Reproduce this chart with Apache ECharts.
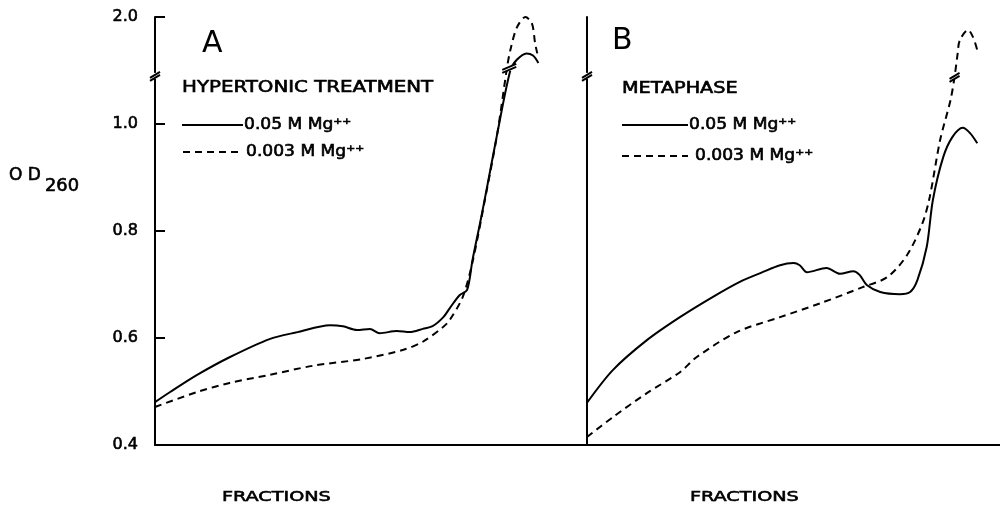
<!DOCTYPE html>
<html>
<head>
<meta charset="utf-8">
<script src="https://cdn.jsdelivr.net/npm/echarts@6/dist/echarts.min.js"></script>
<style>
html,body{margin:0;padding:0;background:#fff;}
#main{width:1000px;height:506px;}
</style>
</head>
<body>
<div id="main"></div>
<script>
// [fraction, OD260]; values above 1.0 are drawn above the axis break
var solidA = [[0,0.480],[1.4,0.499],[3.9,0.531],[6.9,0.564],[10.6,0.598],[13.2,0.611],[16.2,0.624],[17.4,0.622],[18.7,0.615],[19.9,0.617],[20.8,0.609],[22.4,0.613],[23.6,0.611],[24.8,0.617],[25.7,0.622],[26.7,0.639],[27.3,0.656],[28.2,0.680],[28.9,0.690],[29.4,0.746],[30.1,0.815],[30.7,0.877],[31.7,0.983],[32.9,1.50],[33.5,1.60],[34.4,1.66],[35.0,1.64],[35.5,1.57]];
var dashA = [[0,0.471],[3.9,0.499],[6.9,0.516],[10.6,0.531],[14.6,0.548],[19.3,0.561],[23.0,0.578],[24.8,0.593],[26.7,0.621],[27.3,0.634],[28.5,0.677],[29.4,0.742],[30.6,0.864],[31.7,0.983],[32.6,1.53],[32.9,1.69],[33.5,1.90],[34.3,2.00],[34.9,1.94],[35.2,1.75],[35.4,1.66]];
var solidB = [[0,0.479],[2.5,0.540],[5.8,0.596],[9.0,0.639],[12.2,0.677],[14.8,0.705],[17.0,0.723],[18.7,0.736],[20.0,0.740],[20.6,0.736],[21.3,0.723],[23.2,0.731],[24.5,0.720],[25.8,0.725],[26.4,0.718],[27.1,0.699],[28.4,0.686],[30.3,0.682],[31.3,0.686],[32.0,0.708],[32.9,0.770],[33.5,0.858],[34.5,0.938],[35.4,0.976],[36.4,0.993],[37.1,0.983],[37.8,0.964]];
var dashB = [[0,0.415],[2.5,0.452],[5.8,0.497],[9.0,0.536],[10.6,0.564],[14.5,0.611],[18.7,0.639],[22.6,0.665],[26.7,0.695],[29.1,0.714],[31.0,0.755],[32.5,0.815],[33.2,0.864],[34.2,0.970],[35.2,1.22],[35.6,1.44],[35.9,1.66],[36.1,1.78],[36.9,1.88],[37.4,1.81],[37.8,1.69]];
var yTicks = ['0.4','0.6','0.8','1.0','2.0'];
var legendNames = ['0.05 M Mg⁺⁺', '0.003 M Mg⁺⁺'];

var INK = '#000';
var FONT = 'DejaVu Sans';
var BREAK = 1.09; // axis position of the break

// compress the 1.0 - 2.0 range above the break
function brk(v) { return v > 1 ? 1 + (v - 1) * 0.2 : v; }
function prep(arr) { return arr.map(function (p) { return [p[0], brk(p[1])]; }); }

var myChart = echarts.init(document.getElementById('main'));

function yAx(grid, labels) {
    return {
        type: 'value', gridIndex: grid, min: 0.4, max: 1.2, interval: 0.2,
        axisLine: {show: true, lineStyle: {color: INK, width: 2}},
        axisTick: {show: labels, inside: true, length: 10, lineStyle: {color: INK, width: 2}},
        axisLabel: {
            show: labels, margin: 17, color: INK, fontSize: 16, fontFamily: FONT,
            textBorderColor: INK, textBorderWidth: 0.6,
            formatter: function (v) { return yTicks[Math.round((v - 0.4) / 0.2)]; }
        },
        splitLine: {show: false}
    };
}
function xAx(grid) {
    return {
        type: 'value', gridIndex: grid, min: 0, max: 40,
        axisLine: {show: true, lineStyle: {color: INK, width: 2}},
        axisTick: {show: false}, axisLabel: {show: false}, splitLine: {show: false}
    };
}
function line(name, data, grid, dashed) {
    return {
        name: name, type: 'line', xAxisIndex: grid, yAxisIndex: grid,
        data: prep(data), smooth: 0.3, symbol: 'none', animation: false,
        lineStyle: {color: INK, width: 2, type: dashed ? [7, 5] : 'solid'}
    };
}

var option = {
    backgroundColor: '#fff',
    animation: false,
    grid: [
        {left: 155, top: 17, width: 432, bottom: 61},
        {left: 587, top: 17, right: 0, bottom: 61}
    ],
    xAxis: [xAx(0), xAx(1)],
    yAxis: [yAx(0, true), yAx(1, false)],
    series: [
        line(legendNames[0], solidA, 0, false),
        line(legendNames[1], dashA, 0, true),
        line(legendNames[0], solidB, 1, false),
        line(legendNames[1], dashB, 1, true)
    ]
};
myChart.setOption(option);

// texts, legend keys and break marks
function txt(s, x, y, size, sx, bw) {
    return {type: 'text', x: x, y: y, scaleX: sx || 1, z: 10,
        style: {text: s, fill: INK, stroke: INK, lineWidth: bw === undefined ? 0.6 : bw,
            font: size + 'px "' + FONT + '"', textAlign: 'left', textVerticalAlign: 'middle'}};
}
function seg(x1, y1, x2, y2, dashed) {
    return {type: 'line', z: 12, shape: {x1: x1, y1: y1, x2: x2, y2: y2},
        style: {stroke: INK, lineWidth: 2, lineDash: dashed ? [7, 5] : null}};
}
function breakMark(p, w) {
    return [
        {type: 'rect', z: 11, shape: {x: p[0] - w / 2, y: p[1] - 3, width: w, height: 6}, style: {fill: '#fff'}},
        seg(p[0] - w / 2, p[1] + 2, p[0] + w / 2, p[1] - 4),
        seg(p[0] - w / 2, p[1] + 5, p[0] + w / 2, p[1] - 1)
    ];
}

var g = [];
g.push(txt('A', 202, 44, 30, 1, 0));
g.push(txt('B', 612, 41, 30, 1, 0));
g.push(txt('HYPERTONIC TREATMENT', 182, 88, 15, 1.32));
g.push(seg(182, 125, 243, 125, false));
g.push(txt(legendNames[0], 244, 125, 15, 1.14));
g.push(seg(183, 152, 240, 152, true));
g.push(txt(legendNames[1], 246, 152, 15, 1.14));
g.push(txt('METAPHASE', 622, 89, 15, 1.28));
g.push(seg(622, 125, 688, 125, false));
g.push(txt(legendNames[0], 689, 125, 15, 1.14));
g.push(seg(622, 156, 688, 156, true));
g.push(txt(legendNames[1], 695, 156, 15, 1.14));
g.push(txt('O D', 9, 176, 17, 1));
g.push(txt('260', 45, 187, 17, 1.05));
g.push(txt('FRACTIONS', 222, 497, 14, 1.37));
g.push(txt('FRACTIONS', 690, 497, 14, 1.37));

var pA = myChart.convertToPixel({gridIndex: 0}, [0, BREAK]);
var pB = myChart.convertToPixel({gridIndex: 1}, [0, BREAK]);
g = g.concat(breakMark(pA, 10), breakMark(pB, 10));
g = g.concat(breakMark(myChart.convertToPixel({gridIndex: 0}, [32.8, 1.105]), 14));
g = g.concat(breakMark(myChart.convertToPixel({gridIndex: 1}, [35.6, 1.088]), 10));

myChart.setOption({graphic: g});
</script>
</body>
</html>
